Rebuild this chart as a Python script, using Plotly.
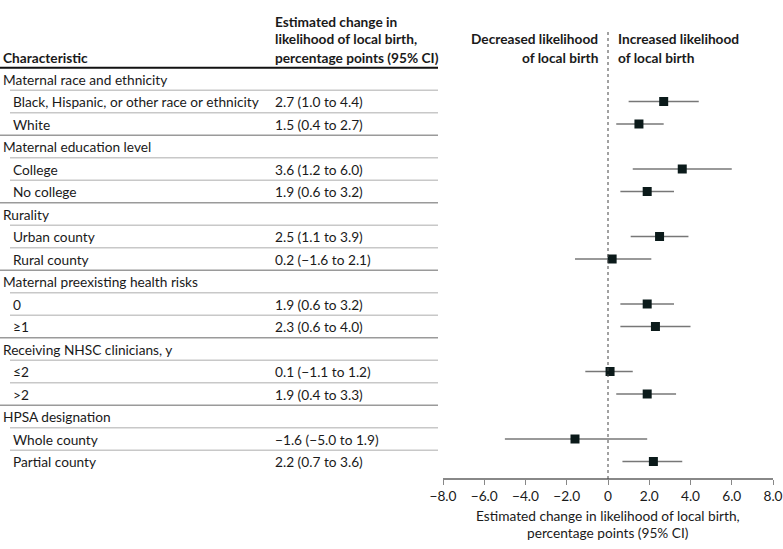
import plotly.graph_objects as go

W, H = 783, 549

# ---- data ----
groups = [
    "Maternal race and ethnicity",
    "Maternal education level",
    "Rurality",
    "Maternal preexisting health risks",
    "Receiving NHSC clinicians, y",
    "HPSA designation",
]
subgroups = [
    ["Black, Hispanic, or other race or ethnicity", "White"],
    ["College", "No college"],
    ["Urban county", "Rural county"],
    ["0", "≥1"],
    ["≤2", ">2"],
    ["Whole county", "Partial county"],
]
estimates = [[2.7, 1.5], [3.6, 1.9], [2.5, 0.2], [1.9, 2.3], [0.1, 1.9], [-1.6, 2.2]]
ci_low = [[1.0, 0.4], [1.2, 0.6], [1.1, -1.6], [0.6, 0.6], [-1.1, 0.4], [-5.0, 0.7]]
ci_high = [[4.4, 2.7], [6.0, 3.2], [3.9, 2.1], [3.2, 4.0], [1.2, 3.3], [1.9, 3.6]]
tick_vals = [-8, -6, -4, -2, 0, 2, 4, 6, 8]
tick_text = ["−8.0", "−6.0", "−4.0", "−2.0", "0", "2.0", "4.0", "6.0", "8.0"]

# ---- layout constants (pixels) ----
ROW0, ROWH = 79, 22.5
FONT = "Lato"
FS = 13.7
TXT = "#1a1a1a"


def px(x):
    return x / W


def py(y):
    return 1 - y / H


def fmt(v):
    s = f"{abs(v):.1f}"
    return ("−" + s) if v < 0 else s


rows = []  # (label, indent, is_group, est, lo, hi, is_last)
for g, subs, es, los, his in zip(groups, subgroups, estimates, ci_low, ci_high):
    rows.append((g, False, True, None, None, None, False))
    for k, (s, e, lo, hi) in enumerate(zip(subs, es, los, his)):
        rows.append((s, True, False, e, lo, hi, k == len(subs) - 1))

annotations = []
shapes = []
pt_y, pt_x, err_p, err_m = [], [], [], []
font = dict(family=FONT, size=FS, color=TXT)

for i, (lab, indent, isg, e, lo, hi, last) in enumerate(rows):
    annotations.append(dict(xref="paper", yref="y", x=px(11 if indent else 1), y=i,
                            text=lab, showarrow=False, xanchor="left", yanchor="middle",
                            font=font))
    if not isg:
        annotations.append(dict(xref="paper", yref="y", x=px(273), y=i,
                                text=f"{fmt(e)} ({fmt(lo)} to {fmt(hi)})", showarrow=False,
                                xanchor="left", yanchor="middle", font=font))
        pt_y.append(i)
        pt_x.append(e)
        err_p.append(hi - e)
        err_m.append(e - lo)
    if i < len(rows) - 1:
        x0 = 0 if last else 10
        col = "#9a9a9a" if last else "#c8c8c8"
        shapes.append(dict(type="line", xref="paper", yref="y", x0=px(x0), x1=px(438),
                           y0=i + 0.5, y1=i + 0.5, line=dict(color=col, width=1.5)))

# header thick line
shapes.append(dict(type="line", xref="paper", yref="y", x0=0, x1=px(438),
                   y0=-0.5, y1=-0.5, line=dict(color="#111111", width=1.8)))

# zero dotted line
shapes.append(dict(type="line", xref="x", yref="paper", x0=0, x1=0,
                   y0=py(479), y1=py(32), line=dict(color="#444444", width=1, dash="dot")))


def add_text(x, y, t, anchor="left"):
    annotations.append(dict(xref="paper", yref="paper", x=px(x), y=py(y), text=t,
                            showarrow=False, xanchor=anchor, yanchor="middle", font=font))


add_text(1, 57, "<b>Characteristic</b>")
add_text(273, 21, "<b>Estimated change in</b>")
add_text(273, 39, "<b>likelihood of local birth,</b>")
add_text(273, 57, "<b>percentage points (95% CI)</b>")
add_text(600, 39, "<b>Decreased likelihood</b>", "right")
add_text(600, 57, "<b>of local birth</b>", "right")
add_text(616, 39, "<b>Increased likelihood</b>", "left")
add_text(616, 57, "<b>of local birth</b>", "left")

annotations.append(dict(xref="paper", yref="paper", x=px(608), y=py(515),
                        text="Estimated change in likelihood of local birth,", showarrow=False,
                        xanchor="center", yanchor="middle", font=font))
annotations.append(dict(xref="paper", yref="paper", x=px(608), y=py(532),
                        text="percentage points (95% CI)", showarrow=False,
                        xanchor="center", yanchor="middle", font=font))

fig = go.Figure()
fig.add_trace(go.Scatter(
    x=pt_x, y=pt_y, mode="markers",
    marker=dict(symbol="square", size=9, color="#0b1a1a"),
    error_x=dict(type="data", symmetric=False, array=err_p, arrayminus=err_m,
                 color="#777777", thickness=1.5, width=0),
    showlegend=False, hoverinfo="skip",
))

nrows_top = ROW0 / ROWH
fig.update_layout(
    width=W, height=H,
    margin=dict(l=0, r=0, t=0, b=0, pad=0, autoexpand=False),
    paper_bgcolor="white", plot_bgcolor="rgba(0,0,0,0)",
    xaxis=dict(domain=[px(443), px(773)], range=[-8, 8], anchor="free", position=py(479),
               automargin=False,
               showgrid=False, zeroline=False, showline=True, linecolor="#888888", linewidth=1.5,
               ticks="outside", ticklen=5, tickcolor="#888888", tickwidth=1.2,
               tickvals=tick_vals, ticktext=tick_text,
               tickfont=dict(family=FONT, size=FS, color=TXT)),
    yaxis=dict(domain=[0, 1], range=[(H - ROW0) / ROWH, -nrows_top], visible=False,
               automargin=False, showgrid=False, zeroline=False),
    annotations=annotations,
    shapes=shapes,
)

fig.write_html("out.html")
